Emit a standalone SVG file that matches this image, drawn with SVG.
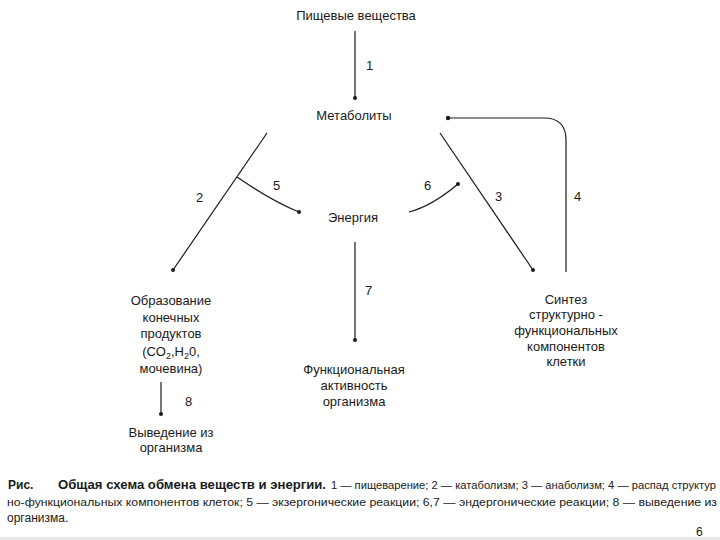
<svg xmlns="http://www.w3.org/2000/svg" width="720" height="540" viewBox="0 0 720 540">
<style>
.t{font-family:"Liberation Sans",Arial,sans-serif;font-size:13px;fill:#1a1a1a;text-anchor:middle}
.n{font-family:"Liberation Sans",Arial,sans-serif;font-size:13px;fill:#1a1a1a}
.c{font-family:"Liberation Sans",Arial,sans-serif;font-size:12px;fill:#1a1a1a}
.b{font-weight:bold}
.ln{fill:none;stroke:#1a1a1a;stroke-width:1.2}
.dot{fill:#1a1a1a}
</style>
<rect width="720" height="540" fill="#ffffff"/>
<g id="n-food"><text class="t" x="356" y="20">Пищевые вещества</text></g>
<g id="n-metab"><text class="t" x="354" y="120">Метаболиты</text></g>
<g id="n-energy"><text class="t" x="353" y="222">Энергия</text></g>
<g id="n-products"><text class="t" x="171" y="305">Образование</text><text class="t" x="171" y="322">конечных</text><text class="t" x="171" y="338">продуктов</text><text class="t" x="171" y="356">(CO<tspan style="font-size:9px" dy="3">2</tspan><tspan dy="-3">,H</tspan><tspan style="font-size:9px" dy="3">2</tspan><tspan dy="-3">0,</tspan></text><text class="t" x="171" y="373">мочевина)</text></g>
<g id="n-excretion"><text class="t" x="171" y="437">Выведение из</text><text class="t" x="171" y="452">организма</text></g>
<g id="n-activity"><text class="t" x="354" y="374">Функциональная</text><text class="t" x="354" y="390">активность</text><text class="t" x="354" y="406">организма</text></g>
<g id="n-synthesis"><text class="t" x="566" y="304">Синтез</text><text class="t" x="566" y="319">структурно -</text><text class="t" x="566" y="335">функциональных</text><text class="t" x="566" y="351">компонентов</text><text class="t" x="566" y="366">клетки</text></g>
<g id="connectors">
<path class="ln" d="M355,31 V98"/><circle class="dot" cx="355" cy="98" r="2"/>
<path class="ln" d="M267,133 L173,270"/><circle class="dot" cx="173" cy="270" r="2"/>
<path class="ln" d="M237,177 Q272,201 299,212"/><circle class="dot" cx="299" cy="212" r="2"/>
<path class="ln" d="M409,212 Q432,206 458,184"/><circle class="dot" cx="458" cy="184" r="2"/>
<path class="ln" d="M440,133 L533,270"/><circle class="dot" cx="533" cy="270" r="2"/>
<path class="ln" d="M566,272 V140 Q566,118 544,118 H448"/><circle class="dot" cx="448" cy="118" r="2.2"/>
<path class="ln" d="M355,242 V340"/><circle class="dot" cx="355" cy="340" r="2"/>
<path class="ln" d="M161,382 V414"/><circle class="dot" cx="161" cy="414" r="2"/>
<text class="n" x="366" y="70">1</text>
<text class="n" x="196" y="202">2</text>
<text class="n" x="273" y="190">5</text>
<text class="n" x="424" y="190">6</text>
<text class="n" x="495" y="201">3</text>
<text class="n" x="574" y="201">4</text>
<text class="n" x="365" y="295">7</text>
<text class="n" x="185" y="406">8</text>
</g>
<g id="caption">
<text class="c b" x="8" y="489">Рис.</text>
<text class="c b" x="58" y="489" textLength="268" lengthAdjust="spacingAndGlyphs">Общая схема обмена веществ и энергии.</text>
<text class="c" x="331" y="489" style="font-size:11px" textLength="385" lengthAdjust="spacingAndGlyphs">1 — пищеварение; 2 — катаболизм; 3 — анаболизм; 4 — распад структур</text>
<text class="c" x="7" y="506" style="font-size:11.5px" textLength="710" lengthAdjust="spacingAndGlyphs">но-функциональных компонентов клеток; 5 — экзергонические реакции; 6,7 — эндергонические реакции; 8 — выведение из</text>
<text class="c" x="7" y="522">организма.</text>
<text class="c" x="696" y="536">6</text>
</g>
<rect x="0" y="537" width="720" height="3" fill="#e6e6e6"/>
</svg>
